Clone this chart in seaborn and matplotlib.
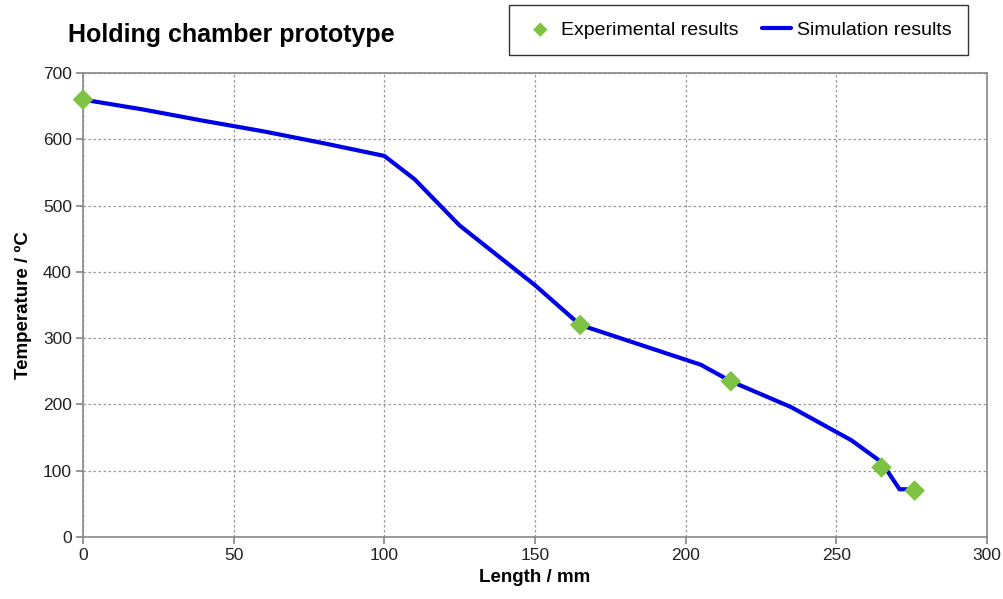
import matplotlib
matplotlib.use("Agg")
import matplotlib.pyplot as plt
import pandas as pd
import seaborn as sns

# simulation curve
sim_length = [0, 20, 40, 60, 80, 100, 110, 125, 150, 165, 185, 205, 215, 235, 255, 265, 271, 276]
sim_temp = [660, 645, 628, 612, 594, 575, 540, 470, 380, 320, 290, 260, 235, 196, 146, 113, 72, 72]

# measured points
exp_length = [0, 165, 215, 265, 276]
exp_temp = [660, 320, 235, 105, 70]

sim = pd.DataFrame({"Length": sim_length, "Temperature": sim_temp})
exp = pd.DataFrame({"Length": exp_length, "Temperature": exp_temp})

sns.set_theme(style="white")
plt.rcParams["font.family"] = ["Liberation Sans", "DejaVu Sans"]
plt.rcParams["text.color"] = "black"
plt.rcParams["axes.labelcolor"] = "black"
plt.rcParams["xtick.color"] = "#222222"
plt.rcParams["ytick.color"] = "#222222"

fig = plt.figure(figsize=(10.04, 5.99), dpi=100)
ax = fig.add_axes([0.0827, 0.1035, 0.9003, 0.7745])

sns.lineplot(data=sim, x="Length", y="Temperature", ax=ax, color="#0000E6",
             linewidth=3, label="Simulation results", sort=False, zorder=3)
sns.scatterplot(data=exp, x="Length", y="Temperature", ax=ax, color="#7DC242",
                marker="D", s=110, edgecolor="none", label="Experimental results",
                zorder=4, clip_on=False)

ax.set_xlim(0, 300)
ax.set_ylim(0, 700)
ax.set_xticks(range(0, 301, 50))
ax.set_yticks(range(0, 701, 100))
ax.grid(True, color="#999999", linestyle=(0, (2, 2)), linewidth=0.9)
for s in ax.spines.values():
    s.set_color("#888888")
    s.set_linewidth(1.2)
ax.tick_params(axis="both", direction="out", length=5, color="#888888",
               labelsize=12.5, labelcolor="#222222", pad=3, left=True, bottom=True)
ax.set_xlabel("Length / mm", fontsize=13.5, fontweight="bold", labelpad=4)
ax.set_ylabel("Temperature / ºC", fontsize=13.5, fontweight="bold", labelpad=8)

fig.text(0.068, 0.942, "Holding chamber prototype", fontsize=18, fontweight="bold", va="center")

handles, labels = ax.get_legend_handles_labels()
order = [labels.index("Experimental results"), labels.index("Simulation results")]
leg = ax.legend([handles[i] for i in order], [labels[i] for i in order],
                loc="center", bbox_to_anchor=(0.7355, 0.95), bbox_transform=fig.transFigure,
                ncol=2, frameon=True, fancybox=False, fontsize=14, handlelength=1.5,
                columnspacing=1.2, borderpad=0.85, handletextpad=0.3, markerscale=0.7)
leg.get_frame().set_edgecolor("black")
leg.get_frame().set_linewidth(1)

fig.savefig("out.png", dpi=100)
